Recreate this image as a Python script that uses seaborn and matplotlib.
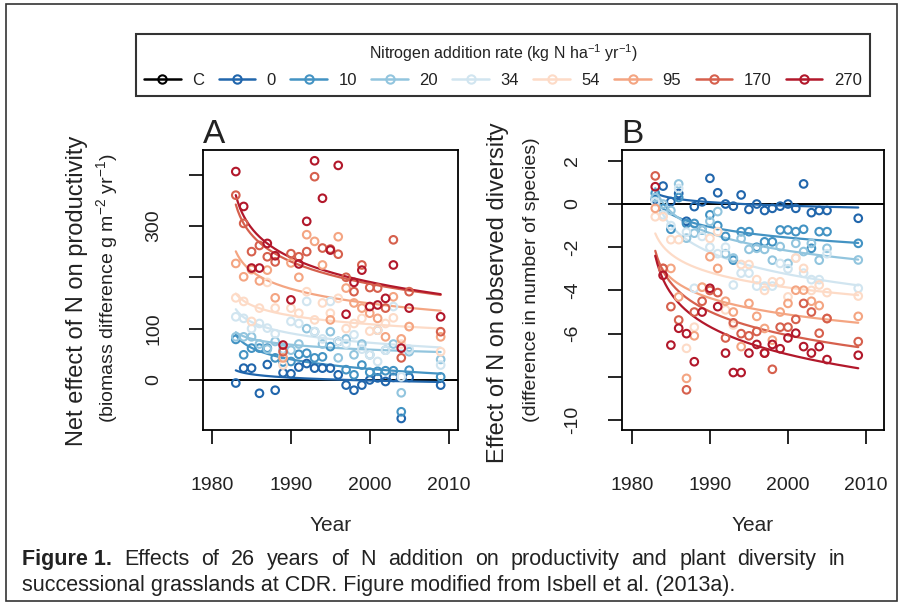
import numpy as np
import pandas as pd
import matplotlib
matplotlib.use('Agg')
import matplotlib.pyplot as plt
from matplotlib.lines import Line2D
from matplotlib.patches import Rectangle
import seaborn as sns

# sampling years and nitrogen addition rates
YEARS = [1983, 1984, 1985, 1986, 1987, 1988, 1989, 1990, 1991, 1992, 1993, 1994,
         1995, 1996, 1997, 1998, 1999, 2000, 2001, 2002, 2003, 2004, 2005, 2009]
RATES = ['0', '10', '20', '34', '54', '95', '170', '270']
COLORS = ['#2166ac', '#4393c3', '#92c5de', '#d1e5f0', '#fddbc7', '#f4a582', '#d6604d', '#b2182b']

# panel A: net effect on productivity (g m-2 yr-1)
A_0 = [-6, 23, 23, -26, 30, -20, 14, 12, 25, 32, 23, 23, 23, 10, -10, -20, -10, 0, 4, -3, 5, -75, 5, -10]
A_10 = [79, 49, 62, 62, 62, 43, 35, 36, 50, 52, 43, 45, 65, 75, 20, 10, 29, 15, 17, 18, 18, -62, 19, 6]
A_20 = [84, 84, 84, 70, 60, 75, 60, 58, 70, 100, 94, 70, 94, 43, 80, 49, 70, 49, 97, 58, 70, -25, 55, 40]
A_34 = [123, 120, 100, 110, 101, 90, 45, 114, 110, 153, 94, 80, 153, 75, 70, 88, 60, 49, 36, 58, 143, 6, 60, 29]
A_54 = [160, 153, 114, 140, 190, 140, 29, 140, 130, 172, 117, 150, 130, 159, 100, 110, 120, 95, 97, 110, 121, 70, 104, 55]
A_95 = [227, 201, 215, 193, 214, 160, 43, 228, 200, 283, 270, 224, 117, 279, 179, 150, 140, 130, 120, 84, 162, 80, 104, 84]
A_170 = [360, 305, 250, 262, 240, 230, 55, 246, 240, 250, 396, 257, 255, 245, 200, 172, 224, 180, 179, 140, 273, 43, 172, 94]
A_270 = [406, 338, 218, 218, 266, 242, 68, 156, 226, 309, 427, 354, 253, 418, 128, 190, 214, 143, 146, 159, 224, 62, 140, 123]

# panel B: effect on observed diversity (number of species)
B_0 = [0.2, 0.83, 0.11, 0.49, -0.8, -0.12, 0.1, 1.19, 0.52, 0.0, -0.1, 0.42, -0.25, 0.0, -0.3, -0.2, -0.1, 0.0, -0.2, 0.93, -0.4, -0.3, -0.3, -0.66]
B_10 = [0.5, -0.2, -1.17, 0.3, -0.9, -0.9, -1.2, -0.5, -1.0, -1.5, -2.6, -1.28, -1.28, -2.0, -1.75, -1.75, -1.2, -1.2, -1.28, -1.17, -2.05, -1.28, -1.28, -1.82]
B_20 = [0.3, 0.0, -0.3, 0.93, -1.58, -1.35, -1.2, -0.8, -0.35, -2.3, -2.5, -1.6, -2.1, -2.05, -2.1, -2.6, -1.97, -2.75, -1.82, -2.2, -1.82, -2.6, -2.05, -2.59]
B_34 = [0.11, -0.5, -1.0, 0.72, -1.3, -3.9, -1.5, -2.0, -2.3, -2.0, -3.75, -3.2, -3.2, -3.8, -3.8, -3.8, -2.75, -3.0, -2.5, -3.2, -3.5, -3.5, -2.3, -3.9]
B_54 = [-0.59, -0.59, -1.65, -1.65, -6.68, -5.7, -3.85, -1.59, -1.28, -4.9, -5.6, -2.8, -2.8, -3.5, -4.0, -3.6, -3.6, -4.3, -2.5, -2.98, -4.0, -3.75, -4.1, -4.26]
B_95 = [-0.2, -2.98, -2.98, -4.3, -8.07, -6.1, -3.85, -2.44, -2.98, -4.5, -5.0, -6.6, -4.6, -5.2, -5.76, -6.3, -5.0, -4.6, -3.99, -3.99, -4.5, -4.7, -5.3, -5.2]
B_170 = [1.3, -2.98, -4.75, -5.37, -8.6, -5.0, -4.5, -4.0, -4.1, -6.2, -5.5, -6.0, -6.1, -5.9, -6.9, -7.65, -5.7, -5.7, -5.34, -4.6, -5.0, -5.98, -5.3, -6.37]
B_270 = [0.8, -3.3, -6.53, -5.75, -6.0, -7.3, -5.0, -3.9, -4.75, -6.9, -7.8, -7.8, -6.9, -6.5, -6.9, -6.5, -6.7, -6.2, -5.98, -6.6, -6.9, -6.6, -7.2, -7.0]

prod = dict(zip(RATES, [A_0, A_10, A_20, A_34, A_54, A_95, A_170, A_270]))
div = dict(zip(RATES, [B_0, B_10, B_20, B_34, B_54, B_95, B_170, B_270]))

CAPTION_1 = 'Effects of 26 years of N addition on productivity and plant diversity in'
CAPTION_2 = 'successional grasslands at CDR. Figure modified from Isbell et al. (2013a).'


def long_table(series):
    rows = []
    for rate in RATES:
        for yr, v in zip(YEARS, series[rate]):
            rows.append((yr, rate, v))
    return pd.DataFrame(rows, columns=['year', 'rate', 'value'])


sns.set_theme(style='ticks')
plt.rcParams['font.family'] = ['Liberation Sans', 'DejaVu Sans']
plt.rcParams['mathtext.fontset'] = 'custom'
plt.rcParams['mathtext.rm'] = 'Liberation Sans'
plt.rcParams['axes.edgecolor'] = 'black'
plt.rcParams['axes.linewidth'] = 1.3
plt.rcParams['text.color'] = '#222222'

W, H = 902, 604
fig = plt.figure(figsize=(W / 100, H / 100), dpi=100)
axA = fig.add_axes([202.7 / W, 1 - 430 / H, (458 - 202.7) / W, 280 / H])
axB = fig.add_axes([621.7 / W, 1 - 430 / H, (884 - 621.7) / W, 280 / H])


def panel(ax, series):
    ax.axhline(0, color='black', lw=1.4, zorder=1)
    # log-time fit per rate, drawn from the first to the last year
    t = np.array(YEARS) - 1982
    grid = np.linspace(YEARS[0], YEARS[-1], 200)
    for rate, col in zip(RATES, COLORS):
        b, a = np.polyfit(np.log(t), series[rate], 1)
        ax.plot(grid, a + b * np.log(grid - 1982), color=col, lw=1.6, zorder=2)
    df = long_table(series)
    sns.scatterplot(data=df, x='year', y='value', hue='rate', hue_order=RATES,
                    palette=COLORS, s=30, linewidth=0, legend=False, ax=ax, zorder=3)
    pts = ax.collections[-1]
    pts.set_edgecolors(pts.get_facecolors())
    pts.set_facecolors('none')
    pts.set_linewidths(1.5)
    ax.set_xticks([1980, 1990, 2000, 2010])
    ax.tick_params(axis='both', direction='out', length=10, width=1.2,
                   labelsize=14, pad=19, colors='black', labelcolor='#222222')
    ax.tick_params(axis='x', pad=24)
    ax.set_xlabel('Year', fontsize=15, labelpad=16)
    ax.set_ylabel('')


panel(axA, prod)
axA.set_xlim(1978.8, 2011.2)
axA.set_ylim(-97.5, 448)
axA.set_yticks([0, 100, 200, 300, 400])
axA.set_yticklabels(['0', '100', '', '300', ''], rotation=90, va='center')

panel(axB, div)
axB.set_xlim(1978.7, 2012.3)
axB.set_ylim(-10.46, 2.5)
axB.set_yticks([2, 0, -2, -4, -6, -8, -10])
axB.set_yticklabels(['2', '0', '-2', '-4', '-6', '', '-10'], rotation=90, va='center')

axA.text(0, 1.025, 'A', transform=axA.transAxes, fontsize=24, va='baseline', ha='left')
axB.text(0, 1.025, 'B', transform=axB.transAxes, fontsize=24, va='baseline', ha='left')

# two-line y labels
fig.text(77 / W, 1 - 291 / H, 'Net effect of N on productivity', rotation=90,
         fontsize=17, ha='center', va='center')
fig.text(108 / W, 1 - 288 / H, '(biomass difference g m$^{-2}$ yr$^{-1}$)', rotation=90,
         fontsize=14, ha='center', va='center')
fig.text(498 / W, 1 - 293 / H, 'Effect of N on observed diversity', rotation=90,
         fontsize=17, ha='center', va='center')
fig.text(532 / W, 1 - 280 / H, '(difference in number of species)', rotation=90,
         fontsize=14, ha='center', va='center')

# legend across the top
handles = [Line2D([0], [0], color='black', lw=1.8, marker='o', markersize=6,
                  markerfacecolor='none', markeredgewidth=1.5)]
handles += [Line2D([0], [0], color=c, lw=1.8, marker='o', markersize=6,
                   markerfacecolor='none', markeredgewidth=1.5) for c in COLORS]
leg = fig.legend(handles, ['C'] + RATES, ncol=9, loc='upper center',
                 bbox_to_anchor=(503 / W, 1 - 26 / H),
                 title='Nitrogen addition rate (kg N ha$^{-1}$ yr$^{-1}$)',
                 fontsize=12, title_fontsize=11.5, frameon=True, fancybox=False,
                 handlelength=2.2, handletextpad=0.7, columnspacing=0.85, borderpad=0.5)
leg.get_frame().set_edgecolor('black')
leg.get_frame().set_linewidth(1.5)

# caption: first line justified between the margins
renderer = fig.canvas.get_renderer()
base1, base2 = 1 - 565 / H, 1 - 591 / H
t1 = fig.text(22 / W, base1, 'Figure 1.', fontsize=15.5, fontweight='bold', va='baseline')
x0 = t1.get_window_extent(renderer).x1
words = CAPTION_1.split()
word_texts = [fig.text(0, base1, w, fontsize=15.5, va='baseline') for w in words]
widths = [wt.get_window_extent(renderer).width for wt in word_texts]
gap = (845 - x0 - sum(widths)) / len(words)
x = x0 + gap
for wt, w in zip(word_texts, widths):
    wt.set_x(x / W)
    x += w + gap
fig.text(22 / W, base2, CAPTION_2, fontsize=15.5, va='baseline')

# outer frame
fig.patches.append(Rectangle((6 / W, 3 / H), 891 / W, 597 / H, transform=fig.transFigure,
                             fill=False, edgecolor='#333333', lw=1.2))

fig.savefig('out.png', dpi=100)
